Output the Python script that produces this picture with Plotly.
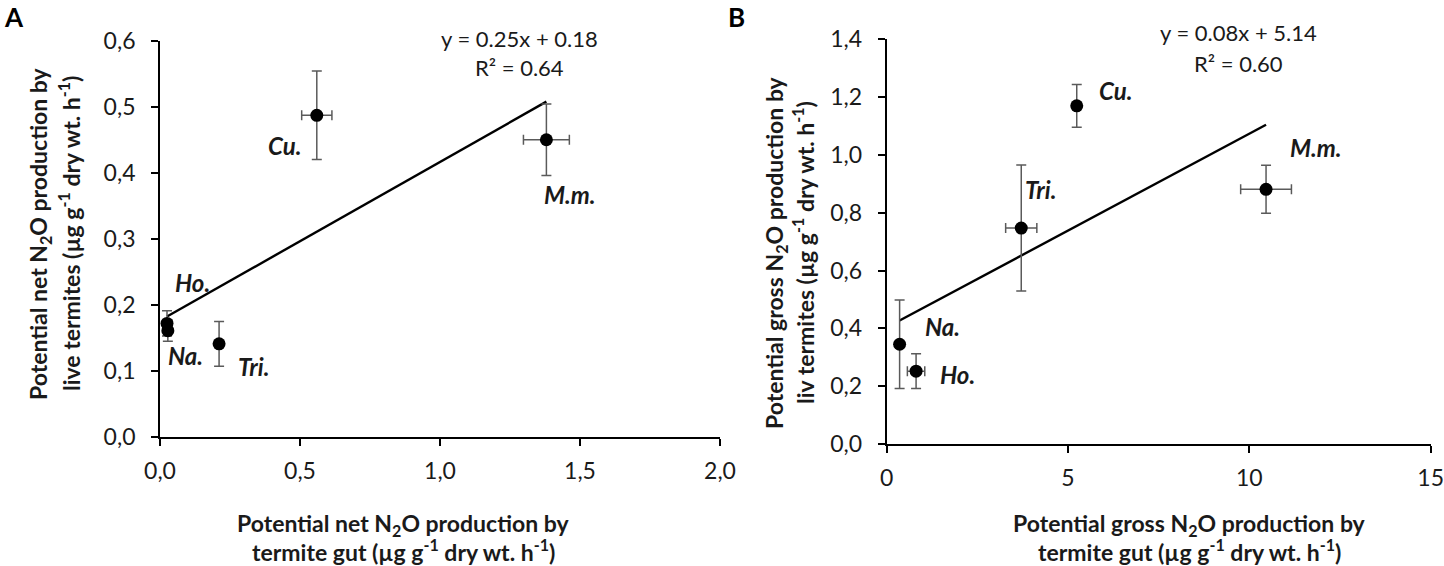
import numpy as np
import plotly.graph_objects as go

# termite species, same order in both panels
species = ["Ho.", "Na.", "Tri.", "Cu.", "M.m."]

# panel A: potential net N2O production
gut_net = [0.025, 0.028, 0.211, 0.560, 1.380]
gut_net_err = [0.008, 0.008, 0.0, 0.054, 0.082]
live_net = [0.172, 0.161, 0.141, 0.487, 0.450]
live_net_err = [0.019, 0.016, 0.034, 0.067, 0.054]

# panel B: potential gross N2O production
gut_gross = [0.81, 0.356, 3.71, 5.24, 10.46]
gut_gross_err = [0.24, 0.0, 0.43, 0.0, 0.70]
live_gross = [0.252, 0.345, 0.747, 1.170, 0.881]
live_gross_err = [0.060, 0.153, 0.218, 0.074, 0.083]

eq_a = ["y = 0.25x + 0.18", "R² = 0.64"]
eq_b = ["y = 0.08x + 5.14", "R² = 0.60"]

W, H = 1444, 566
FONT = "Lato"
ERR = "#5a5a5a"


def px(x):
    return x / W


def py(y):
    return 1 - y / H


def trend(x, y):
    slope, icpt = np.polyfit(x, y, 1)
    xs = np.array([min(x), max(x)])
    return xs, slope * xs + icpt


fig = go.Figure()

for xa, ya, x, xe, y, ye in [
    ("x", "y", gut_net, gut_net_err, live_net, live_net_err),
    ("x2", "y2", gut_gross, gut_gross_err, live_gross, live_gross_err),
]:
    tx, ty = trend(x, y)
    fig.add_trace(
        go.Scatter(
            x=tx, y=ty, mode="lines", line=dict(color="black", width=2.4),
            xaxis=xa, yaxis=ya, showlegend=False,
        )
    )
    fig.add_trace(
        go.Scatter(
            x=x, y=y, mode="markers",
            marker=dict(color="black", size=13),
            error_x=dict(type="data", array=xe, color=ERR, thickness=1.5, width=5),
            error_y=dict(type="data", array=ye, color=ERR, thickness=1.5, width=5),
            xaxis=xa, yaxis=ya, showlegend=False,
        )
    )

axis_style = dict(
    showline=True, linecolor="black", linewidth=1.8,
    ticks="outside", ticklen=7, tickcolor="black", tickwidth=1.8,
    showgrid=False, zeroline=False, automargin=False,
    ticklabeloverflow="allow",
    tickfont=dict(family=FONT, size=23, color="#1a1a1a"),
)

fig.update_layout(
    width=W, height=H,
    margin=dict(l=0, r=0, t=0, b=0, pad=0, autoexpand=False),
    plot_bgcolor="white", paper_bgcolor="white",
    separators=",.",
    xaxis=dict(domain=[px(160), px(720)], range=[0, 2], dtick=0.5,
               tickformat=".1f", anchor="y", ticklabelstandoff=5, **axis_style),
    yaxis=dict(domain=[py(437), py(40.7)], range=[0, 0.6], dtick=0.1,
               tickformat=".1f", anchor="x", ticklabelstandoff=11, **axis_style),
    xaxis2=dict(domain=[px(886.7), px(1430.7)], range=[0, 15], dtick=5,
                tickformat=".0f", anchor="y2", ticklabelstandoff=5, **axis_style),
    yaxis2=dict(domain=[py(444), py(39.3)], range=[0, 1.4], dtick=0.2,
                tickformat=".1f", anchor="x2", ticklabelstandoff=11, **axis_style),
)

annotations = []


def note(text, x, y, size=23, angle=0, xref="paper", yref="paper", color="#1a1a1a"):
    annotations.append(
        dict(text=text, x=x, y=y, xref=xref, yref=yref, showarrow=False,
             textangle=angle, xanchor="center", yanchor="middle",
             font=dict(family=FONT, size=size, color=color))
    )


# panel letters
note("<b>A</b>", px(14), py(17), size=26, color="black")
note("<b>B</b>", px(736), py(17), size=26, color="black")

# axis titles
unit = "(µg g<sup>-1</sup> dry wt. h<sup>-1</sup>)"
note("<b>Potential net N<sub>2</sub>O production by</b>", px(403), py(524))
note("<b>termite gut " + unit + "</b>", px(403), py(550))
note("<b>Potential net N<sub>2</sub>O production by</b>", px(39), py(234), angle=-90)
note("<b>live termites " + unit + "</b>", px(69), py(234), angle=-90)
note("<b>Potential gross N<sub>2</sub>O production by</b>", px(1189), py(524))
note("<b>termite gut " + unit + "</b>", px(1189), py(550))
note("<b>Potential gross N<sub>2</sub>O production by</b>", px(775), py(253), angle=-90)
note("<b>liv termites " + unit + "</b>", px(803), py(253), angle=-90)

# regression equations
note(eq_a[0], px(519), py(38), size=22)
note(eq_a[1], px(519), py(68), size=22)
note(eq_b[0], px(1238), py(33), size=22)
note(eq_b[1], px(1238), py(63), size=22)

# species labels next to points
pos_a = [(0.115, 0.234), (0.092, 0.124), (0.335, 0.106), (0.443, 0.441), (1.465, 0.367)]
pos_b = [(1.95, 0.239), (1.55, 0.405), (4.23, 0.879), (6.3, 1.222), (11.84, 1.024)]
for name, (lx, ly) in zip(species, pos_a):
    note("<b><i>" + name + "</i></b>", lx, ly, size=24, xref="x", yref="y")
for name, (lx, ly) in zip(species, pos_b):
    note("<b><i>" + name + "</i></b>", lx, ly, size=24, xref="x2", yref="y2")

fig.update_layout(annotations=annotations)

fig.write_html(
    "out.html",
    config={"displayModeBar": False},
    post_script="document.body.style.margin='0';",
)
